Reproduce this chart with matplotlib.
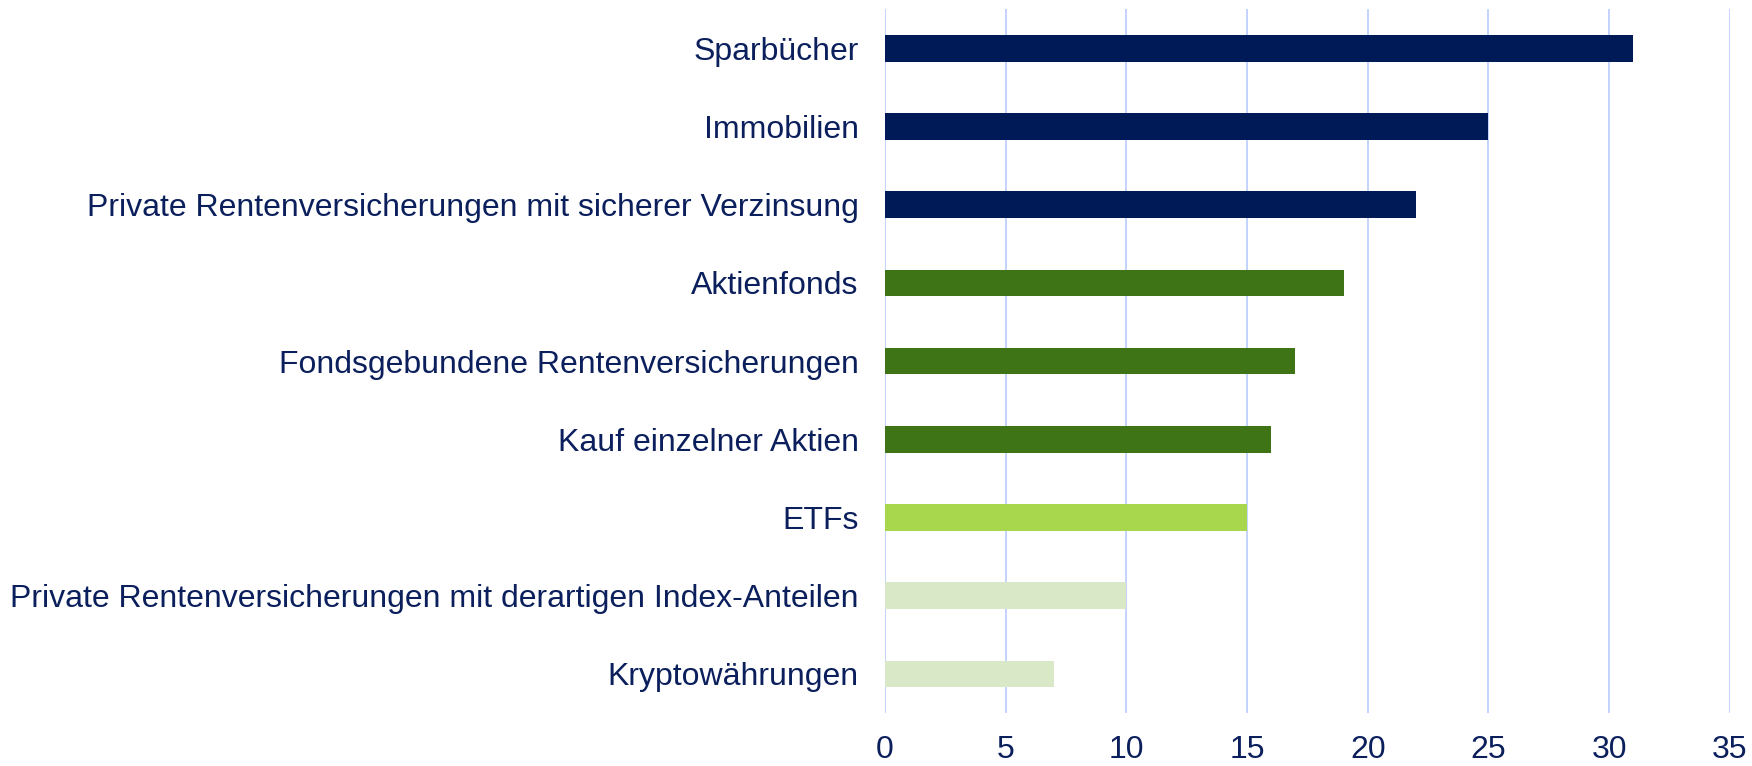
import matplotlib
matplotlib.use("Agg")
import matplotlib.pyplot as plt

categories = [
    "Sparbücher",
    "Immobilien",
    "Private Rentenversicherungen mit sicherer Verzinsung",
    "Aktienfonds",
    "Fondsgebundene Rentenversicherungen",
    "Kauf einzelner Aktien",
    "ETFs",
    "Private Rentenversicherungen mit derartigen Index-Anteilen",
    "Kryptowährungen",
]
values = [31, 25, 22, 19, 17, 16, 15, 10, 7]
bar_colors = ["#001A57", "#001A57", "#001A57", "#3F7416", "#3F7416", "#3F7416",
              "#A8D64C", "#D9E8C6", "#D9E8C6"]
xticks = [0, 5, 10, 15, 20, 25, 30, 35]

text_color = "#0B1F5C"
grid_color = "#BFD0FF"

plt.rcParams['font.family'] = ['Liberation Sans', 'DejaVu Sans']

fig = plt.figure(figsize=(17.52, 7.66), dpi=100)
ax = fig.add_axes([0.5051, 0.0692, 0.9874 - 0.5051, 0.988 - 0.0692])

ypos = list(range(len(categories)))
ax.barh(ypos, values, height=0.34, color=bar_colors, zorder=3)
ax.set_ylim(len(categories) - 0.5, -0.5)
ax.set_xlim(0, 35)
ax.set_xticks(xticks)
ax.set_yticks(ypos)
ax.set_yticklabels(categories, fontsize=23, color=text_color)
ax.set_xticklabels([str(t) for t in xticks], fontsize=23, color=text_color)
ax.tick_params(axis='both', length=0)
ax.tick_params(axis='y', pad=19)
ax.tick_params(axis='x', pad=16)
for s in ax.spines.values():
    s.set_visible(False)
ax.grid(axis='x', color=grid_color, linewidth=1.3, zorder=0)
ax.set_axisbelow(True)

fig.savefig("out.png", dpi=100)
